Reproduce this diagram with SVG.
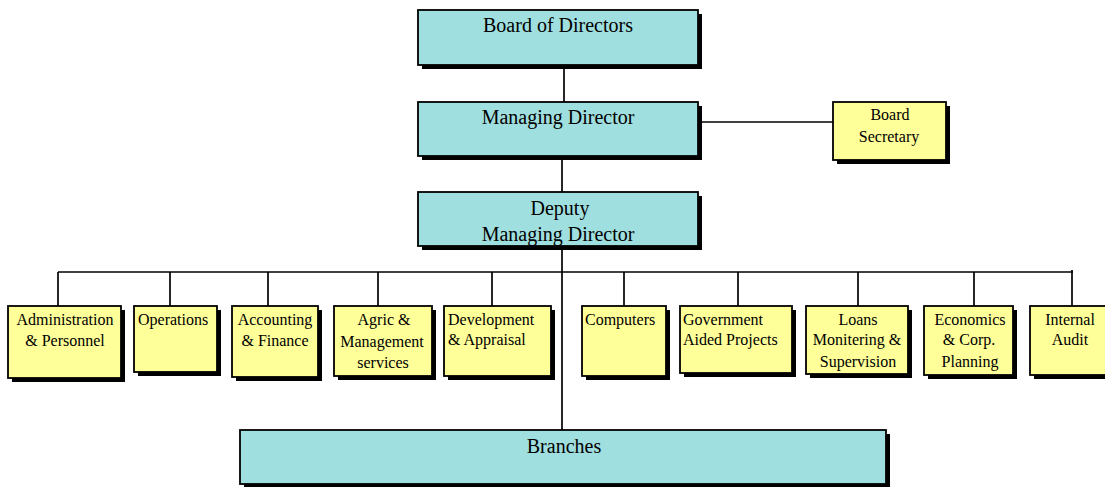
<svg xmlns="http://www.w3.org/2000/svg" width="1105" height="487" viewBox="0 0 1105 487">
  <style>
    .shadow { fill: #000; }
    .exec { fill: #a0dfdf; stroke: #000; stroke-width: 1.8; }
    .dept { fill: #ffff99; stroke: #000; stroke-width: 1.8; }
    .big { font-family: "Liberation Serif", "Times New Roman", serif; font-size: 20px; fill: #000; }
    .small { font-family: "Liberation Serif", "Times New Roman", serif; font-size: 16px; fill: #000; }
    .sec { font-family: "Liberation Serif", "Times New Roman", serif; font-size: 16px; fill: #000; }
    .c { text-anchor: middle; }
    .line { stroke: #000; stroke-width: 1.7; fill: none; }
  </style>

  <!-- connectors -->
  <g id="connectors">
    <line class="line" x1="564" y1="65" x2="564" y2="102"/>
    <line class="line" x1="698" y1="122" x2="833" y2="122"/>
    <line class="line" x1="562" y1="156" x2="562" y2="192"/>
    <line class="line" x1="562" y1="246" x2="562" y2="430"/>
    <line class="line" x1="58" y1="272" x2="1073" y2="272"/>
    <line class="line" x1="58" y1="272" x2="58" y2="306"/>
    <line class="line" x1="170" y1="272" x2="170" y2="306"/>
    <line class="line" x1="268" y1="272" x2="268" y2="306"/>
    <line class="line" x1="378" y1="272" x2="378" y2="306"/>
    <line class="line" x1="492" y1="272" x2="492" y2="306"/>
    <line class="line" x1="624" y1="272" x2="624" y2="306"/>
    <line class="line" x1="738" y1="272" x2="738" y2="306"/>
    <line class="line" x1="858" y1="272" x2="858" y2="306"/>
    <line class="line" x1="974" y1="272" x2="974" y2="306"/>
    <line class="line" x1="1072" y1="270" x2="1072" y2="306"/>
  </g>

  <g id="board">
    <rect class="shadow" x="422" y="14" width="280" height="55"/>
    <rect class="exec" x="418" y="10" width="280" height="55"/>
    <text class="big c" x="558" y="32">Board of Directors</text>
  </g>

  <g id="md">
    <rect class="shadow" x="422" y="106" width="280" height="54"/>
    <rect class="exec" x="418" y="102" width="280" height="54"/>
    <text class="big c" x="558" y="124">Managing Director</text>
  </g>

  <g id="secretary">
    <rect class="shadow" x="837" y="106" width="113" height="58"/>
    <rect class="dept" x="833" y="102" width="113" height="58"/>
    <text class="sec c" x="890" y="120">Board</text>
    <text class="sec c" x="889" y="142">Secretary</text>
  </g>

  <g id="deputy">
    <rect class="shadow" x="422" y="196" width="280" height="54"/>
    <rect class="exec" x="418" y="192" width="280" height="54"/>
    <text class="big c" x="560" y="215">Deputy</text>
    <text class="big c" x="558" y="241">Managing Director</text>
  </g>

  <g id="admin">
    <rect class="shadow" x="12" y="310" width="113" height="72"/>
    <rect class="dept" x="8" y="306" width="113" height="72"/>
    <text class="small c" x="65" y="325">Administration</text>
    <text class="small c" x="65" y="346">&amp; Personnel</text>
  </g>

  <g id="operations">
    <rect class="shadow" x="138" y="310" width="83" height="66"/>
    <rect class="dept" x="134" y="306" width="83" height="66"/>
    <text class="small" x="138" y="325">Operations</text>
  </g>

  <g id="accounting">
    <rect class="shadow" x="236" y="310" width="86" height="71"/>
    <rect class="dept" x="232" y="306" width="86" height="71"/>
    <text class="small c" x="275" y="325">Accounting</text>
    <text class="small c" x="275" y="346">&amp; Finance</text>
  </g>

  <g id="agric">
    <rect class="shadow" x="338" y="310" width="98" height="70"/>
    <rect class="dept" x="334" y="306" width="98" height="70"/>
    <text class="small c" x="384" y="325">Agric &amp;</text>
    <text class="small c" x="382" y="347">Management</text>
    <text class="small c" x="383" y="368">services</text>
  </g>

  <g id="development">
    <rect class="shadow" x="448" y="310" width="107" height="70"/>
    <rect class="dept" x="444" y="306" width="107" height="70"/>
    <text class="small" x="448" y="325">Development</text>
    <text class="small" x="448" y="345">&amp; Appraisal</text>
  </g>

  <g id="computers">
    <rect class="shadow" x="586" y="310" width="84" height="70"/>
    <rect class="dept" x="582" y="306" width="84" height="70"/>
    <text class="small" x="585" y="325">Computers</text>
  </g>

  <g id="government">
    <rect class="shadow" x="684" y="310" width="112" height="67"/>
    <rect class="dept" x="680" y="306" width="112" height="67"/>
    <text class="small" x="683" y="325">Government</text>
    <text class="small" x="683" y="345">Aided Projects</text>
  </g>

  <g id="loans">
    <rect class="shadow" x="810" y="310" width="102" height="68"/>
    <rect class="dept" x="806" y="306" width="102" height="68"/>
    <text class="small c" x="858" y="325">Loans</text>
    <text class="small c" x="857" y="345">Monitering &amp;</text>
    <text class="small c" x="858" y="367">Supervision</text>
  </g>

  <g id="economics">
    <rect class="shadow" x="928" y="310" width="89" height="69"/>
    <rect class="dept" x="924" y="306" width="89" height="69"/>
    <text class="small c" x="970" y="325">Economics</text>
    <text class="small c" x="969" y="345">&amp; Corp.</text>
    <text class="small c" x="970" y="367">Planning</text>
  </g>

  <g id="audit">
    <rect class="shadow" x="1034" y="310" width="80" height="69"/>
    <rect class="dept" x="1030" y="306" width="80" height="69"/>
    <text class="small c" x="1070" y="325">Internal</text>
    <text class="small c" x="1070" y="345">Audit</text>
  </g>

  <g id="branches">
    <rect class="shadow" x="244" y="434" width="646" height="54"/>
    <rect class="exec" x="240" y="430" width="646" height="54"/>
    <text class="big c" x="564" y="453">Branches</text>
  </g>
</svg>
